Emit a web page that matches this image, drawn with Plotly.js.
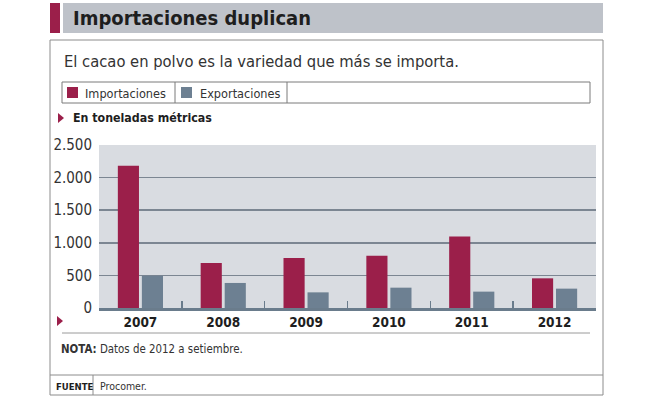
<!DOCTYPE html>
<html><head><meta charset="utf-8">
<script src="https://cdn.plot.ly/plotly-3.0.1.min.js"></script>
<style>html,body{margin:0;padding:0;background:#fff;}#chart{width:653px;height:398px;}</style>
</head><body><div id="chart"></div>
<script>
const years = ["2007","2008","2009","2010","2011","2012"];
const importaciones = [2180, 690, 768, 803, 1095, 455];
const exportaciones = [496, 384, 240, 312, 251, 297];
const yTicks = [0, 500, 1000, 1500, 2000, 2500];
const seriesNames = ["Importaciones", "Exportaciones"];

const W = 653, H = 398;
const L = 99, R = 596, T = 145, B = 308;
const FONT = "'DejaVu Sans Condensed', 'Roboto', sans-serif";
const RED = "#9b1f4a", SLATE = "#6d8092";
function px(x){ return (x - L) / (R - L); }
function py(y){ return (B - y) / (B - T); }
function rect(x0,y0,x1,y1,fill,line,lw){
  return {type:'rect', xref:'paper', yref:'paper', x0:px(x0), x1:px(x1), y0:py(y1), y1:py(y0),
    fillcolor: fill || 'rgba(0,0,0,0)', line:{color: line || 'rgba(0,0,0,0)', width: lw || 0}, layer:'below'};
}
function lineS(x0,y0,x1,y1,color,w){
  return {type:'line', xref:'paper', yref:'paper', x0:px(x0), x1:px(x1), y0:py(y0), y1:py(y1), line:{color:color, width:w}};
}
function tri(x,y,color){
  return {type:'path', xref:'paper', yref:'paper',
    path:`M ${px(x)} ${py(y-5)} L ${px(x+6)} ${py(y)} L ${px(x)} ${py(y+5)} Z`, fillcolor:color, line:{width:0}};
}
function txt(x,y,text,size,color){
  return {xref:'paper', yref:'paper', x:px(x), y:py(y), text:text, showarrow:false,
    xanchor:'left', yanchor:'middle', font:{family:FONT, size:size, color:color||'#1e1e1e'}};
}

const traces = [
  {type:'bar', name:seriesNames[0], x:years, y:importaciones, marker:{color:RED}, hoverinfo:'none'},
  {type:'bar', name:seriesNames[1], x:years, y:exportaciones, marker:{color:SLATE}, hoverinfo:'none'}
];

const shapes = [
  rect(50,3,60,33,RED),
  rect(63,3,603,33,'#bec2c9'),
  rect(50,40,603,395,null,'#8c8c8c',1),
  rect(62,82,590,103,null,'#7a7a7a',1),
  lineS(175,82,175,103,'#7a7a7a',1),
  lineS(287,82,287,103,'#7a7a7a',1),
  rect(67,87,78,98,RED),
  rect(181,87,192,98,SLATE),
  tri(58,118,RED),
  tri(57,321,RED),
  lineS(62,333,590,333,'#9a9a9a',1),
  lineS(50,375,603,375,'#8c8c8c',1),
  lineS(93,375,93,395,'#8c8c8c',1)
];

const annotations = [
  txt(71,18,"<b>Importaciones duplican</b>",20),
  txt(62,61,"El cacao en polvo es la variedad que más se importa.",16.4,'#333'),
  txt(83,93,"Importaciones",12.6,'#333'),
  txt(198,93,"Exportaciones",12.6,'#333'),
  txt(71,118,"<b>En toneladas métricas</b>",12.3),
  txt(59,349,"<b>NOTA:</b> Datos de 2012 a setiembre.",11.4,'#333'),
  txt(54,386,"<b>FUENTE</b>",9.5),
  txt(98,386,"Procomer.",10.5,'#333')
];

const layout = {
  width:W, height:H,
  margin:{l:L, r:W-R, t:T, b:H-B, pad:0},
  paper_bgcolor:'#ffffff', plot_bgcolor:'#d9dce1',
  showlegend:false,
  separators:',.',
  barmode:'group', bargap:0.42, bargroupgap:0.12,
  font:{family:FONT, color:'#333'},
  xaxis:{type:'category', showgrid:false, showline:true, linecolor:'#6a7c8c', linewidth:3,
    ticks:'inside', tickson:'boundaries', ticklen:7, tickwidth:1.5, tickcolor:'#6a7c8c',
    tickfont:{family:FONT, size:13.5, color:'#1e1e1e', weight:'bold'}, fixedrange:true},
  yaxis:{range:[0,2500], tickvals:yTicks, tickformat:',', showgrid:true, gridcolor:'#7c8692', gridwidth:1.5,
    zeroline:false, showline:false, ticks:'', ticklabelstandoff:6,
    tickfont:{family:FONT, size:15, color:'#333'}, fixedrange:true},
  shapes:shapes, annotations:annotations
};
Plotly.newPlot('chart', traces, layout, {displayModeBar:false, staticPlot:true});
</script></body></html>
